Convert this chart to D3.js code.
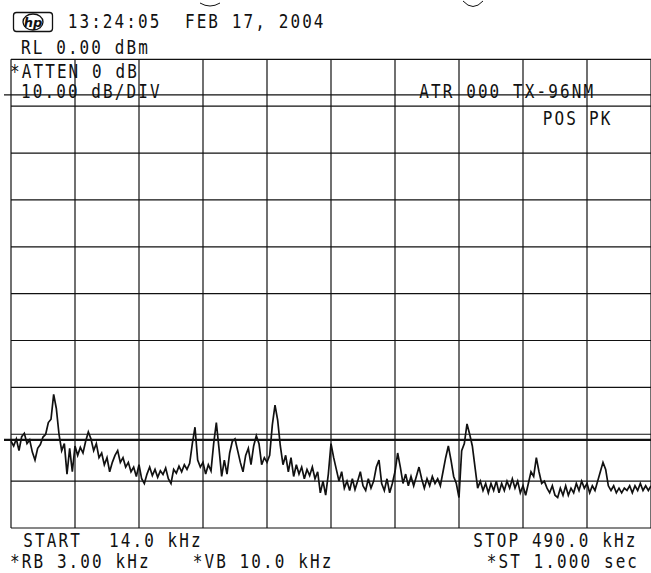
<!DOCTYPE html>
<html><head><meta charset="utf-8">
<script src="https://cdn.jsdelivr.net/npm/d3@7"></script>
<style>html,body{margin:0;padding:0;background:#fff;overflow:hidden}svg{display:block}</style>
</head><body>
<svg id="c" width="651" height="573"></svg>
<script>
// ---- data ----
const startKHz = 14.0;
const stopKHz = 490.0;
const refLevelDBm = 0;
const dbPerDiv = 10;
const numDivs = 10;
const displayLinesDBm = [-7.6, -81.2];
const traceDBm = [
-81.5,-82.5,-81.0,-83.5,-80.5,-79.8,-82.0,-81.2,-83.8,-85.5,
-83.0,-82.2,-80.6,-80.0,-77.5,-76.8,-71.5,-74.5,-80.0,-83.5,
-82.0,-88.5,-83.0,-88.0,-82.5,-84.5,-82.8,-84.0,-81.5,-79.5,
-81.0,-83.5,-82.0,-85.0,-84.0,-86.5,-85.0,-88.0,-86.0,-84.5,
-83.5,-86.0,-85.0,-87.0,-86.0,-88.0,-87.0,-89.0,-86.5,-89.5,
-90.5,-88.5,-87.0,-88.8,-87.5,-89.2,-87.8,-88.6,-87.2,-89.5,
-90.5,-87.5,-88.3,-86.8,-88.0,-86.5,-87.5,-86.2,-82.0,-78.5,
-85.5,-87.0,-86.0,-88.5,-86.5,-87.8,-82.0,-77.5,-83.0,-89.0,
-85.5,-88.5,-84.0,-81.5,-81.0,-83.5,-86.0,-88.0,-84.5,-83.0,
-86.5,-82.5,-80.3,-82.0,-86.5,-85.0,-86.0,-84.5,-78.0,-73.8,
-77.0,-82.5,-86.5,-84.5,-88.0,-85.0,-89.0,-86.5,-88.5,-87.0,
-89.5,-87.5,-88.8,-87.0,-89.5,-88.0,-92.5,-90.0,-93.0,-88.5,
-82.0,-85.0,-87.5,-90.0,-88.0,-91.5,-90.0,-92.0,-89.5,-91.8,
-90.0,-88.0,-91.0,-92.0,-89.5,-91.5,-90.0,-87.0,-85.5,-90.5,
-92.0,-89.5,-92.5,-90.5,-88.0,-84.0,-87.0,-90.5,-88.5,-91.0,
-89.0,-91.0,-89.0,-87.0,-89.5,-91.5,-89.5,-91.0,-89.0,-90.5,
-89.5,-91.0,-88.0,-85.0,-82.5,-85.5,-89.0,-90.5,-93.5,-83.5,
-82.0,-77.8,-80.0,-82.5,-87.0,-91.5,-90.0,-92.0,-90.5,-92.5,
-90.5,-92.0,-90.0,-92.5,-90.5,-92.0,-90.0,-91.5,-89.5,-91.5,
-90.0,-92.5,-91.0,-93.0,-90.5,-88.0,-89.0,-85.0,-88.0,-90.5,
-90.0,-91.5,-92.5,-91.0,-93.0,-93.5,-91.5,-93.0,-91.0,-93.0,
-91.5,-92.5,-90.5,-92.0,-90.0,-91.5,-90.5,-92.5,-91.0,-92.0,
-90.0,-88.0,-86.0,-87.5,-91.0,-92.0,-91.0,-92.5,-91.5,-92.5,
-91.5,-92.0,-91.0,-92.5,-91.0,-92.0,-90.5,-92.0,-91.0,-92.0,
-91.0
];
const headerDate = "13:24:05  FEB 17, 2004";
const refLabel = "RL 0.00 dBm";
const attenLabel = "*ATTEN 0 dB";
const scaleLabel = "10.00 dB/DIV";
const titleLabel = "ATR 000 TX-96NM";
const detectorLabel = ["POS", "PK"];
const startLabel = ["START", "14.0 kHz"];
const stopLabel = "STOP 490.0 kHz";
const rbwLabel = "*RB 3.00 kHz";
const vbwLabel = "*VB 10.0 kHz";
const sweepLabel = "*ST 1.000 sec";

// ---- drawing ----
const svg = d3.select("#c");
const L = 11, R = 651, T = 59.3, B = 528;
const x = d3.scaleLinear().domain([startKHz, stopKHz]).range([L, R]);
const y = d3.scaleLinear().domain([refLevelDBm - dbPerDiv * numDivs, refLevelDBm]).range([B, T]);
const ink = "#111";

// grid
const xGrid = d3.range(numDivs + 1).map(k => startKHz + k * (stopKHz - startKHz) / numDivs);
const yGrid = d3.range(numDivs + 1).map(k => refLevelDBm - k * dbPerDiv);
svg.append("g").selectAll("line").data(xGrid).join("line")
  .attr("x1", d => x(d)).attr("x2", d => x(d))
  .attr("y1", T).attr("y2", B)
  .attr("stroke", ink).attr("stroke-width", 1.2);
svg.append("g").selectAll("line").data(yGrid).join("line")
  .attr("x1", L).attr("x2", R)
  .attr("y1", d => y(d)).attr("y2", d => y(d))
  .attr("stroke", ink).attr("stroke-width", 1.2);

// display lines
svg.append("g").selectAll("line").data(displayLinesDBm).join("line")
  .attr("x1", 4).attr("x2", R)
  .attr("y1", d => y(d)).attr("y2", d => y(d))
  .attr("stroke", ink).attr("stroke-width", (d, i) => i === 1 ? 2.2 : 1.4);

// trace
const n = traceDBm.length;
const freqs = d3.range(n).map(i => startKHz + i * (stopKHz - startKHz) / (n - 1));
svg.append("path")
  .datum(traceDBm)
  .attr("fill", "none").attr("stroke", ink).attr("stroke-width", 1.7)
  .attr("stroke-linejoin", "miter")
  .attr("d", d3.line().x((d, i) => x(freqs[i])).y(d => y(d)));

// texts
const font = "'DejaVu Sans Mono', monospace";
function txt(s, tx, ty) {
  return svg.append("text").attr("x", tx).attr("y", ty)
    .attr("font-family", font).attr("font-size", 16).attr("fill", ink)
    .attr("letter-spacing", 2.1)
    .style("white-space", "pre")
    .attr("transform", `translate(${tx},${ty}) scale(1,1.22) translate(${-tx},${-ty})`)
    .text(s);
}
txt(headerDate, 67.7, 28.5);
txt(refLabel, 21, 54.3);
txt(attenLabel, 10, 77.6);
txt(scaleLabel, 21, 98.2);
txt(titleLabel, 419.3, 98.2);
txt(detectorLabel[0], 542.7, 125);
txt(detectorLabel[1], 589, 125);
txt(startLabel[0], 23.3, 546.7);
txt(startLabel[1], 109, 546.7);
txt(stopLabel, 473.3, 546.7);
txt(rbwLabel, 10, 568);
txt(vbwLabel, 192.7, 568);
txt(sweepLabel, 486.7, 568);

// hp logo
const logo = svg.append("g");
logo.append("rect").attr("x", 13.5).attr("y", 12.5).attr("width", 39).attr("height", 19)
  .attr("rx", 3).attr("fill", "none").attr("stroke", ink).attr("stroke-width", 1.3);
logo.append("ellipse").attr("cx", 33).attr("cy", 22).attr("rx", 10).attr("ry", 8)
  .attr("fill", "none").attr("stroke", ink).attr("stroke-width", 1.3);
logo.append("text").attr("x", 33).attr("y", 27).attr("text-anchor", "middle")
  .attr("font-family", "'DejaVu Sans', sans-serif").attr("font-style", "italic")
  .attr("font-weight", "bold").attr("font-size", 13).attr("fill", ink).text("hp");

// small scan marks at top
svg.append("path").attr("d", "M463,1 Q473,12 483,1").attr("fill", "none").attr("stroke", ink).attr("stroke-width", 1);
svg.append("path").attr("d", "M200,3 Q210,9 220,3").attr("fill", "none").attr("stroke", ink).attr("stroke-width", 1);
</script>
</body></html>
